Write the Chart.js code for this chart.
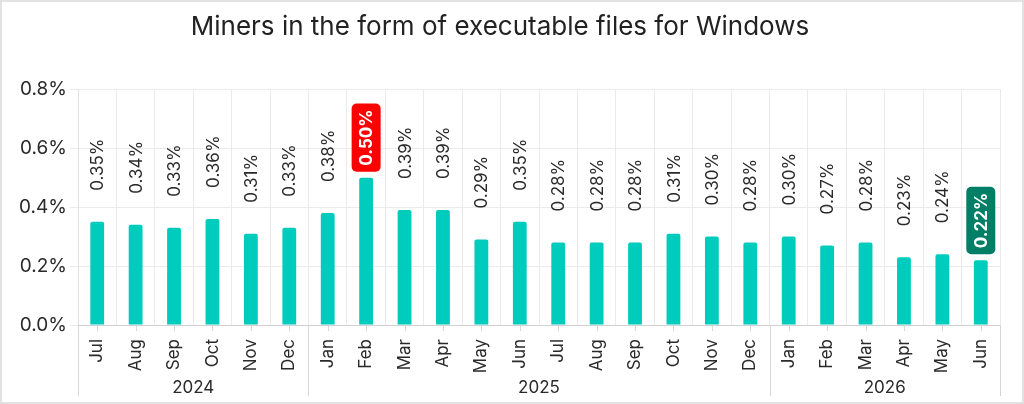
<!DOCTYPE html>
<html>
<head>
<meta charset="utf-8">
<script src="https://cdn.jsdelivr.net/npm/chart.js@4/dist/chart.umd.min.js"></script>
<style>
  html, body { margin: 0; padding: 0; background: #fff; }
  #wrap { width: 1024px; height: 404px; position: relative; }
</style>
</head>
<body>
<div id="wrap"><canvas id="c" width="1024" height="404"></canvas></div>
<script>
"use strict";

var months = ["Jul","Aug","Sep","Oct","Nov","Dec",
  "Jan","Feb","Mar","Apr","May","Jun","Jul","Aug","Sep","Oct","Nov","Dec",
  "Jan","Feb","Mar","Apr","May","Jun"];
var values = [0.35, 0.34, 0.33, 0.36, 0.31, 0.33,
  0.38, 0.50, 0.39, 0.39, 0.29, 0.35, 0.28, 0.28, 0.28, 0.31, 0.30, 0.28,
  0.30, 0.27, 0.28, 0.23, 0.24, 0.22];
var yearLabels = ["2024", "2025", "2026"];
var yearSpans = [6, 12, 6];
var highlightIdx = [7, 23];
var highlightColors = ["#ff0000", "#007e66"];

var FONT = "Inter, 'Noto Sans', sans-serif";
var TEXT = "#2a2a2a";

// value labels above bars, rotated; two of them sit in coloured boxes
var barLabels = {
  id: "barLabels",
  afterDatasetsDraw: function(chart) {
    var ctx = chart.ctx;
    var meta = chart.getDatasetMeta(0);
    ctx.save();
    meta.data.forEach(function(bar, i) {
      var txt = values[i].toFixed(2) + "%";
      var h = highlightIdx.indexOf(i);
      ctx.save();
      if (h >= 0) {
        ctx.font = "bold 17px " + FONT;
        var w = ctx.measureText(txt).width;
        var boxLen = w + 12, boxThick = 29;
        var bottom = bar.y - 6;
        ctx.fillStyle = highlightColors[h];
        ctx.beginPath();
        ctx.roundRect(bar.x - boxThick / 2, bottom - boxLen, boxThick, boxLen, 5);
        ctx.fill();
        ctx.translate(bar.x, bottom - 6);
        ctx.rotate(-Math.PI / 2);
        ctx.fillStyle = "#ffffff";
        ctx.textAlign = "left";
        ctx.textBaseline = "middle";
        ctx.fillText(txt, 0, 1);
      } else {
        ctx.font = "17px " + FONT;
        ctx.translate(bar.x, bar.y - 31);
        ctx.rotate(-Math.PI / 2);
        ctx.fillStyle = TEXT;
        ctx.textAlign = "left";
        ctx.textBaseline = "middle";
        ctx.fillText(txt, 0, 1);
      }
      ctx.restore();
    });
    ctx.restore();
  }
};

// month ticks, year row, separators, outer frame
var axisExtras = {
  id: "axisExtras",
  afterDraw: function(chart) {
    var ctx = chart.ctx;
    var xs = chart.scales.x;
    var area = chart.chartArea;
    var step = xs.getPixelForValue(1) - xs.getPixelForValue(0);
    ctx.save();
    ctx.strokeStyle = "#d6d6d6";
    ctx.lineWidth = 1;
    // small ticks at category centres
    for (var i = 0; i < months.length; i++) {
      var px = Math.round(xs.getPixelForValue(i)) + 0.5;
      ctx.beginPath();
      ctx.moveTo(px, area.bottom);
      ctx.lineTo(px, area.bottom + 6);
      ctx.stroke();
    }
    // year separators and labels
    var start = 0;
    var bounds = [xs.getPixelForValue(0) - step / 2];
    yearSpans.forEach(function(n) {
      start += n;
      bounds.push(xs.getPixelForValue(start - 1) + step / 2);
    });
    bounds.forEach(function(b) {
      var bx = Math.round(b) + 0.5;
      ctx.beginPath();
      ctx.moveTo(bx, area.bottom);
      ctx.lineTo(bx, 396);
      ctx.stroke();
    });
    ctx.fillStyle = TEXT;
    ctx.font = "17px " + FONT;
    ctx.textAlign = "center";
    ctx.textBaseline = "middle";
    yearLabels.forEach(function(y, k) {
      ctx.fillText(y, (bounds[k] + bounds[k + 1]) / 2, 388);
    });
    // outer frame
    ctx.strokeStyle = "#e2e2e2";
    ctx.lineWidth = 2;
    ctx.strokeRect(1, 1, chart.width - 2, chart.height - 2);
    ctx.restore();
  }
};

new Chart(document.getElementById("c").getContext("2d"), {
  type: "bar",
  data: {
    labels: months,
    datasets: [{
      data: values,
      backgroundColor: "#00ccbe",
      borderRadius: 2,
      borderSkipped: "bottom",
      categoryPercentage: 1,
      barPercentage: 0.36
    }]
  },
  options: {
    responsive: false,
    animation: false,
    devicePixelRatio: 1,
    layout: { padding: { left: 0, right: 24, top: 0, bottom: 0 } },
    plugins: {
      legend: { display: false },
      tooltip: { enabled: false },
      title: {
        display: true,
        text: "Miners in the form of executable files for Windows",
        color: "#222222",
        font: { family: FONT, size: 26, weight: "normal", lineHeight: 1.2 },
        padding: { top: 12, bottom: 46 }
      }
    },
    scales: {
      x: {
        afterFit: function(s) { s.height = 79; },
        grid: { color: "#ebebeb", offset: true, drawTicks: false },
        border: { color: "#d0d0d0" },
        ticks: {
          color: TEXT,
          font: { family: FONT, size: 17 },
          minRotation: 90,
          maxRotation: 90,
          padding: 14,
          autoSkip: false
        }
      },
      y: {
        min: 0,
        max: 0.8,
        afterFit: function(s) { s.width = 78; },
        grid: { color: "#ebebeb", tickLength: 8 },
        border: { color: "#e0e0e0" },
        ticks: {
          stepSize: 0.2,
          color: TEXT,
          padding: 3,
          font: { family: FONT, size: 19 },
          callback: function(v) { return v.toFixed(1) + "%"; }
        }
      }
    }
  },
  plugins: [barLabels, axisExtras]
});
</script>
</body>
</html>
